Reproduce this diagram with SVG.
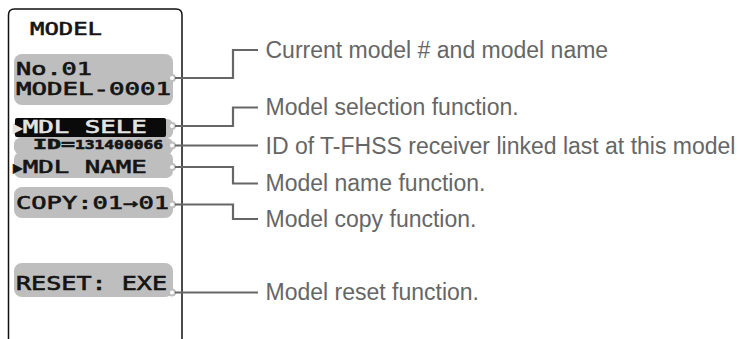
<svg xmlns="http://www.w3.org/2000/svg" width="742" height="339" viewBox="0 0 742 339">
<style>
.box{fill:#bebebe}
.lcd{font-family:"DejaVu Sans Mono","Liberation Mono",monospace;fill:#141414;stroke:#141414;stroke-width:0.6}
.inv{fill:#e4e4e4;stroke:#e4e4e4}
.lbl{font-family:"Liberation Sans",Arial,sans-serif;font-size:23px;fill:#666}
.con{fill:none;stroke:#666;stroke-width:2.2}
.dot{fill:#fff;stroke:#bebebe;stroke-width:2}
</style>
<rect width="742" height="339" fill="#fff"/>
<g id="screen">
<path d="M8.5,340 V15 Q8.5,9 14.5,9 H176 Q182,9 182,15 V340" fill="none" stroke="#111" stroke-width="1.5"/>
<text class="lcd" x="30" y="35" font-size="18" textLength="72" lengthAdjust="spacingAndGlyphs">MODEL</text>
</g>
<g id="model-name">
<rect class="box" x="14" y="54" width="159" height="51" rx="8"/>
<text class="lcd" x="16" y="74.5" font-size="17" textLength="76" lengthAdjust="spacingAndGlyphs">No.01</text>
<text class="lcd" x="16" y="94.5" font-size="17" textLength="155" lengthAdjust="spacingAndGlyphs">MODEL-0001</text>
<circle class="dot" cx="172" cy="78" r="3"/>
</g>
<g id="mdl-sele">
<rect class="box" x="14" y="119" width="159" height="19" rx="6"/>
<rect x="15" y="118" width="151" height="19" rx="2" fill="#0a0a0a"/>
<text class="lcd inv" y="133.3" font-size="17.5"><tspan x="13" font-size="15.5">▶</tspan><tspan x="22.7" textLength="124" lengthAdjust="spacingAndGlyphs">MDL SELE</tspan></text>
<circle class="dot" cx="172" cy="126" r="3"/>
</g>
<g id="receiver-id">
<rect class="box" x="14" y="138" width="159" height="16" rx="6"/>
<text class="lcd" y="149" font-weight="bold" stroke-width="0.2"><tspan x="33" font-size="13.5" textLength="42" lengthAdjust="spacingAndGlyphs">ID=</tspan><tspan x="75" font-size="12.5" textLength="88" lengthAdjust="spacingAndGlyphs">131400066</tspan></text>
<circle class="dot" cx="172" cy="145.5" r="3"/>
</g>
<g id="mdl-name">
<rect class="box" x="14" y="152" width="159" height="26" rx="7"/>
<text class="lcd" y="173.3" font-size="18"><tspan x="13" font-size="15.5">▶</tspan><tspan x="22.7" textLength="124" lengthAdjust="spacingAndGlyphs">MDL NAME</tspan></text>
<circle class="dot" cx="172" cy="167" r="3"/>
</g>
<g id="copy">
<rect class="box" x="14" y="187" width="159" height="31" rx="8"/>
<text class="lcd" x="16" y="209.3" font-size="17.5" textLength="153" lengthAdjust="spacingAndGlyphs">COPY:01→01</text>
<circle class="dot" cx="172" cy="204.5" r="3"/>
</g>
<g id="reset">
<rect class="box" x="14" y="263" width="159" height="34" rx="8"/>
<text class="lcd" x="16" y="290" font-size="19" textLength="151" lengthAdjust="spacingAndGlyphs">RESET: EXE</text>
<circle class="dot" cx="172" cy="292.5" r="3"/>
</g>
<g id="connectors">
<path class="con" d="M175,78 H233 V50 H258"/>
<path class="con" d="M175,126 H233 V107.5 H258"/>
<path class="con" d="M175,145.5 H258"/>
<path class="con" d="M175,167 H233 V183.5 H258"/>
<path class="con" d="M175,204.5 H233 V219 H258"/>
<path class="con" d="M175,292.5 H258"/>
</g>
<g id="labels">
<text class="lbl" x="265.5" y="57.5">Current model # and model name</text>
<text class="lbl" x="265.5" y="115">Model selection function.</text>
<text class="lbl" x="265.5" y="153.5">ID of T-FHSS receiver linked last at this model</text>
<text class="lbl" x="265.5" y="191">Model name function.</text>
<text class="lbl" x="265.5" y="226.5">Model copy function.</text>
<text class="lbl" x="265.5" y="300">Model reset function.</text>
</g>
</svg>
